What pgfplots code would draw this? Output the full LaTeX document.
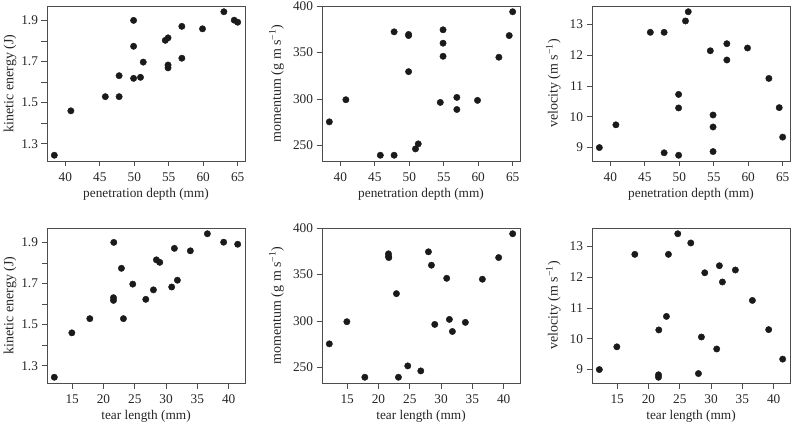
\documentclass[border=0pt]{standalone}
\usepackage{fontspec}
\setmainfont{Liberation Serif}
\usepackage{pgfplots}
\usepackage{pgfplotstable}
\pgfplotsset{compat=1.18}
\definecolor{frame}{HTML}{4D4D4D}
\definecolor{dot}{HTML}{1A1A1A}
\definecolor{txt}{HTML}{262626}

\pgfplotstableread{
depth tear ke mom vel
38.4 12.15 1.244 275.5 9.00
40.8 14.95 1.460 299.3 9.74
45.8 17.82 1.529 239.6 12.75
47.8 23.19 1.529 239.6 12.75
47.8 21.60 1.631 372.3 8.83
49.9 21.65 1.900 368.3 10.29
49.9 22.87 1.774 329.5 10.73
49.9 21.60 1.618 369.5 8.75
50.9 26.76 1.623 246.4 13.12
51.3 24.68 1.697 251.8 13.42
54.5 28.99 1.803 296.4 12.15
54.9 28.46 1.815 360.1 10.06
54.9 30.90 1.683 346.0 9.67
54.9 27.98 1.669 374.5 8.87
56.9 31.33 1.871 301.8 12.38
56.9 31.81 1.716 288.8 11.85
59.9 33.88 1.859 298.6 12.24
63.0 36.60 1.942 345.0 11.25
64.5 39.20 1.901 368.3 10.30
65.0 41.44 1.891 393.9 9.34
}\data

\pgfplotsset{rplot/.style={
  scale only axis, width=198pt, height=155pt,
  axis line style={frame, line width=0.7pt},
  tick style={frame, line width=0.7pt},
  tick align=outside, major tick length=5.5pt,
  xtick pos=bottom, ytick pos=left,
  /pgf/number format/assume math mode=true,
  tick label style={font=\fontsize{13.3}{14}\selectfont, text=txt},
  xticklabel style={yshift=-3pt},
  xlabel style={font=\fontsize{13.3}{14}\selectfont, text=txt, at={(axis description cs:0.5,0)}, anchor=center, yshift=-33pt},
  ylabel style={font=\fontsize{14}{15}\selectfont, text=txt, anchor=center},
  anchor=south west,
},
dots/.style={only marks, mark=*, mark size=3.2pt, color=dot, mark options={draw=dot, fill=dot}},
deptha/.style={xmin=37.336, xmax=66.064, xtick={40,45,50,55,60,65}, xlabel={penetration depth (mm)}},
teara/.style={xmin=10.98, xmax=42.61, xtick={15,20,25,30,35,40}, xlabel={tear length (mm)}},
kea/.style={ymin=1.216, ymax=1.970, ytick={1.3,1.4,1.5,1.6,1.7,1.8,1.9}, yticklabels={1.3,,1.5,,1.7,,1.9}, ylabel={kinetic energy (J)}, ylabel style={at={(axis description cs:-0.187,0.5)}}},
moma/.style={ymin=233.4, ymax=400.1, ytick={250,300,350,400}, ylabel={momentum (g m s\textsuperscript{−1})}, ylabel style={at={(axis description cs:-0.23,0.5)}}},
vela/.style={ymin=8.563, ymax=13.607, ytick={9,10,11,12,13}, ylabel={velocity (m s\textsuperscript{−1})}, ylabel style={at={(axis description cs:-0.195,0.5)}}},
}

\begin{document}
\begin{tikzpicture}[x=1pt,y=1pt]
\useasboundingbox (0,0) rectangle (794,423);
% top row
\begin{axis}[rplot, deptha, kea, at={(47pt,262pt)}]
\addplot[dots] table[x=depth, y=ke] {\data};
\end{axis}
\begin{axis}[rplot, deptha, moma, at={(322pt,262pt)}]
\addplot[dots] table[x=depth, y=mom] {\data};
\end{axis}
\begin{axis}[rplot, deptha, vela, at={(592pt,262pt)}]
\addplot[dots] table[x=depth, y=vel] {\data};
\end{axis}
% bottom row
\begin{axis}[rplot, teara, kea, at={(47pt,40pt)}]
\addplot[dots] table[x=tear, y=ke] {\data};
\end{axis}
\begin{axis}[rplot, teara, moma, at={(322pt,40pt)}]
\addplot[dots] table[x=tear, y=mom] {\data};
\end{axis}
\begin{axis}[rplot, teara, vela, at={(592pt,40pt)}]
\addplot[dots] table[x=tear, y=vel] {\data};
\end{axis}
\end{tikzpicture}
\end{document}
